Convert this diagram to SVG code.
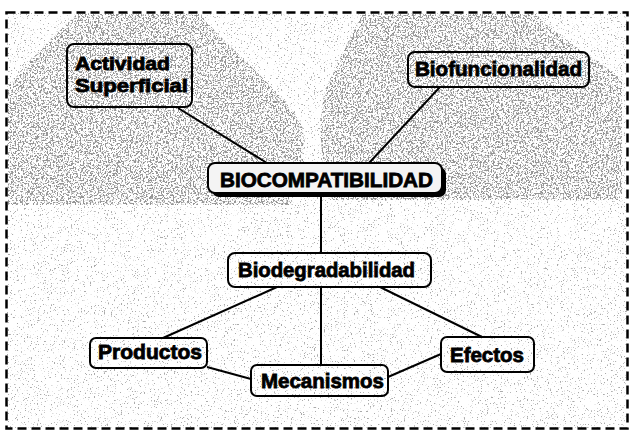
<svg xmlns="http://www.w3.org/2000/svg" width="632" height="432" viewBox="0 0 632 432">
  <defs>
    <filter id="dense" x="0" y="0" width="632" height="432" filterUnits="userSpaceOnUse">
      <feTurbulence type="fractalNoise" baseFrequency="0.6" numOctaves="2" seed="4" result="n"/>
      <feColorMatrix in="n" type="matrix" values="0 0 0 0 0.3  0 0 0 0 0.3  0 0 0 0 0.3  10 0 0 0 -5.1" result="d"/>
      <feComposite in="d" in2="SourceGraphic" operator="in"/>
    </filter>
    <filter id="sparse" x="0" y="0" width="632" height="432" filterUnits="userSpaceOnUse">
      <feTurbulence type="fractalNoise" baseFrequency="0.7" numOctaves="2" seed="9" result="n"/>
      <feColorMatrix in="n" type="matrix" values="0 0 0 0 0.4  0 0 0 0 0.4  0 0 0 0 0.4  10 0 0 0 -6.4" result="d"/>
      <feComposite in="d" in2="SourceGraphic" operator="in"/>
    </filter>
  </defs>
  <style>
    .box { fill: none; stroke: #000; stroke-width: 2; }
    .lbl { font-family: "Liberation Sans", Arial, sans-serif; font-weight: bold; fill: #000; stroke: #000; stroke-width: 0.8; }
    .conn line { stroke: #000; stroke-width: 2; }
  </style>

  <rect x="0" y="0" width="632" height="432" fill="#ffffff"/>

  <!-- background texture -->
  <g id="texture">
    <rect x="7" y="13" width="620" height="415" fill="#000" filter="url(#sparse)"/>
    <path d="M77,14 L200,14 C230,50 270,80 300,120 C310,150 300,180 290,205 L8,205 L8,85 C30,60 55,35 77,14 Z" fill="#000" filter="url(#dense)"/>
    <path d="M363,14 L536,14 C560,40 600,60 622,80 L622,200 L330,200 C320,160 318,120 325,90 C340,60 350,35 363,14 Z" fill="#000" filter="url(#dense)"/>
  </g>

  <!-- dashed frame -->
  <rect x="6.5" y="12.5" width="621" height="416" fill="none" stroke="#000" stroke-width="2.5" stroke-dasharray="9,5"/>

  <g id="connectors" class="conn">
    <line x1="178" y1="108" x2="267" y2="163"/>
    <line x1="440" y1="87" x2="369" y2="163"/>
    <line x1="321" y1="197" x2="321" y2="253"/>
    <line x1="321" y1="287" x2="321" y2="365"/>
    <line x1="277" y1="287" x2="163" y2="338"/>
    <line x1="380" y1="287" x2="482" y2="337"/>
    <line x1="207" y1="367" x2="251" y2="379"/>
    <line x1="388" y1="377" x2="441" y2="354"/>
  </g>

  <g id="actividad">
    <rect class="box" x="67" y="44" width="125" height="63" rx="7"/>
    <text class="lbl" x="75" y="70" font-size="18" textLength="95" lengthAdjust="spacingAndGlyphs">Actividad</text>
    <text class="lbl" x="75" y="92" font-size="18" textLength="113" lengthAdjust="spacingAndGlyphs">Superficial</text>
  </g>

  <g id="biofuncionalidad">
    <rect class="box" x="408" y="52" width="181" height="35" rx="7"/>
    <text class="lbl" x="415" y="76" font-size="20.5" textLength="167" lengthAdjust="spacingAndGlyphs">Biofuncionalidad</text>
  </g>

  <g id="biocompatibilidad">
    <rect x="212" y="167" width="234" height="30" rx="7" fill="#000"/>
    <rect x="208" y="163" width="234" height="30" rx="7" fill="#f4f4f4" stroke="#000" stroke-width="2"/>
    <text class="lbl" x="220" y="187" font-size="20.5" textLength="213" lengthAdjust="spacingAndGlyphs">BIOCOMPATIBILIDAD</text>
  </g>

  <g id="biodegradabilidad">
    <rect class="box" x="228" y="253" width="203" height="34" rx="7"/>
    <text class="lbl" x="238" y="277" font-size="20.5" textLength="177" lengthAdjust="spacingAndGlyphs">Biodegradabilidad</text>
  </g>

  <g id="productos">
    <rect class="box" x="90" y="338" width="117" height="30" rx="6"/>
    <text class="lbl" x="98" y="359" font-size="20.5" textLength="104" lengthAdjust="spacingAndGlyphs">Productos</text>
  </g>

  <g id="mecanismos">
    <rect class="box" x="251" y="365" width="137" height="31" rx="6"/>
    <text class="lbl" x="261" y="388" font-size="20.5" textLength="123" lengthAdjust="spacingAndGlyphs">Mecanismos</text>
  </g>

  <g id="efectos">
    <rect class="box" x="441" y="337" width="93" height="35" rx="6"/>
    <text class="lbl" x="450" y="362" font-size="20.5" textLength="74" lengthAdjust="spacingAndGlyphs">Efectos</text>
  </g>
</svg>
